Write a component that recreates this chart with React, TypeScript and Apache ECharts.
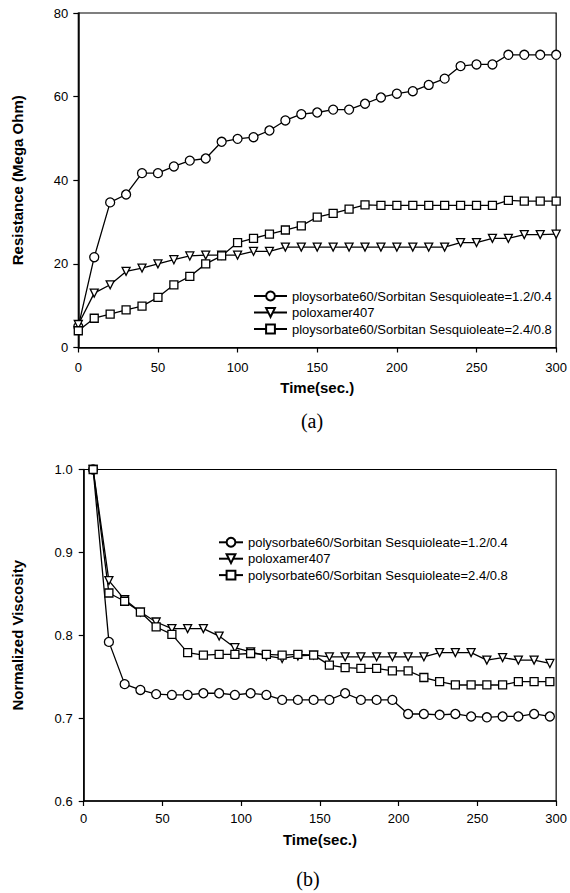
import React, { useEffect, useRef } from "react";
import * as echarts from "echarts";

// ---------- Data (a): Resistance vs time ----------
const timeA = [0, 10, 20, 30, 40, 50, 60, 70, 80, 90, 100, 110, 120, 130, 140, 150, 160, 170, 180, 190, 200, 210, 220, 230, 240, 250, 260, 270, 280, 290, 300];
const resPoly12 = [5.0, 21.6, 34.7, 36.6, 41.7, 41.7, 43.3, 44.7, 45.2, 49.2, 49.9, 50.3, 51.9, 54.3, 55.8, 56.2, 56.9, 56.9, 58.3, 59.8, 60.7, 61.3, 62.8, 64.3, 67.3, 67.7, 67.7, 70.0, 70.0, 70.0, 70.0];
const resPolox = [5.5, 13.0, 15.0, 18.2, 19.0, 20.0, 21.0, 21.9, 22.1, 22.1, 22.1, 23.0, 23.0, 24.0, 24.0, 24.0, 24.0, 24.0, 24.0, 24.0, 24.0, 24.0, 24.0, 24.0, 25.1, 25.1, 26.1, 26.1, 27.0, 27.0, 27.1];
const resPoly24 = [4.0, 7.0, 8.0, 9.0, 9.9, 12.0, 15.0, 17.0, 20.0, 21.9, 25.1, 26.1, 27.1, 28.1, 29.1, 31.2, 32.1, 33.1, 34.1, 34.0, 34.0, 34.0, 34.0, 34.0, 34.0, 34.0, 34.0, 35.2, 35.0, 35.0, 35.0];

// ---------- Data (b): Normalized viscosity vs time ----------
const timeB = [6, 16, 26, 36, 46, 56, 66, 76, 86, 96, 106, 116, 126, 136, 146, 156, 166, 176, 186, 196, 206, 216, 226, 236, 246, 256, 266, 276, 286, 296];
const viscPoly12 = [1.0, 0.792, 0.741, 0.734, 0.729, 0.728, 0.728, 0.730, 0.730, 0.728, 0.730, 0.728, 0.722, 0.722, 0.722, 0.722, 0.730, 0.722, 0.722, 0.722, 0.705, 0.705, 0.704, 0.705, 0.702, 0.701, 0.702, 0.702, 0.705, 0.702];
const viscPolox = [1.0, 0.866, 0.843, 0.828, 0.816, 0.808, 0.808, 0.808, 0.799, 0.785, 0.780, 0.775, 0.772, 0.775, 0.776, 0.774, 0.774, 0.774, 0.774, 0.774, 0.774, 0.774, 0.779, 0.779, 0.779, 0.770, 0.773, 0.770, 0.770, 0.766];
const viscPoly24 = [1.0, 0.851, 0.841, 0.828, 0.810, 0.801, 0.779, 0.776, 0.777, 0.777, 0.778, 0.777, 0.776, 0.777, 0.776, 0.764, 0.761, 0.760, 0.760, 0.757, 0.757, 0.749, 0.744, 0.740, 0.740, 0.740, 0.740, 0.744, 0.744, 0.744];

// ---------- Labels ----------
const namesA = [
  "ploysorbate60/Sorbitan Sesquioleate=1.2/0.4",
  "poloxamer407",
  "ploysorbate60/Sorbitan Sesquioleate=2.4/0.8",
];
const namesB = [
  "polysorbate60/Sorbitan Sesquioleate=1.2/0.4",
  "poloxamer407",
  "polysorbate60/Sorbitan Sesquioleate=2.4/0.8",
];
const xTitle = "Time(sec.)";
const yTitleA = "Resistance (Mega Ohm)";
const yTitleB = "Normalized Viscosity";
const captionA = "(a)";
const captionB = "(b)";

const FONT = '"Liberation Sans", Arial, Helvetica, sans-serif';

function pairs(xs: number[], ys: number[]) {
  return xs.map((x, i) => [x, ys[i]]);
}

function makeSeries(name: string, xi: number, xs: number[], ys: number[], symbol: string, size: number, rotate = 0) {
  return {
    type: "line",
    name,
    xAxisIndex: xi,
    yAxisIndex: xi,
    data: pairs(xs, ys),
    symbol,
    symbolSize: size,
    symbolRotate: rotate,
    showSymbol: true,
    lineStyle: { color: "#000", width: 1.3 },
    itemStyle: { color: "#fff", borderColor: "#000", borderWidth: 1.3 },
    emphasis: { disabled: true },
  };
}

function axisCommon() {
  return {
    axisLine: { show: true, onZero: false, lineStyle: { color: "#000", width: 1.5 } },
    axisTick: { show: true, inside: false, length: 5, lineStyle: { color: "#000", width: 1.2 } },
    splitLine: { show: false },
    nameLocation: "middle",
    nameTextStyle: { fontSize: 15, fontWeight: "bold", color: "#000", fontFamily: FONT },
  };
}

export default function App() {
  const ref = useRef<HTMLDivElement>(null);
  useEffect(() => {
    document.body.style.margin = "0";
    document.body.style.overflow = "hidden";
    const chart = echarts.init(ref.current!, null, { renderer: "svg" });
    const option = {
      animation: false,
      backgroundColor: "#fff",
      textStyle: { fontFamily: FONT, color: "#000" },
      grid: [
        { left: 78.3, right: 11.7, top: 13, height: 334.5, show: true, borderColor: "#000", borderWidth: 1.2, backgroundColor: "transparent" },
        { left: 83.7, right: 13.3, top: 469.5, height: 331.5, show: true, borderColor: "#000", borderWidth: 1.2, backgroundColor: "transparent" },
      ],
      xAxis: [
        {
          type: "value", gridIndex: 0, min: 0, max: 300, interval: 50,
          ...axisCommon(), name: xTitle, nameGap: 32,
          axisLabel: { color: "#000", fontSize: 13, margin: 13, fontFamily: FONT },
        },
        {
          type: "value", gridIndex: 1, min: 0, max: 300, interval: 50,
          ...axisCommon(), name: xTitle, nameGap: 31,
          axisLabel: { color: "#000", fontSize: 13, margin: 11, fontFamily: FONT },
        },
      ],
      yAxis: [
        {
          type: "value", gridIndex: 0, min: 0, max: 80, interval: 20,
          ...axisCommon(), name: yTitleA, nameGap: 53,
          axisLabel: { color: "#000", fontSize: 13, margin: 10, fontFamily: FONT },
        },
        {
          type: "value", gridIndex: 1, min: 0.6, max: 1.0, interval: 0.1,
          ...axisCommon(), name: yTitleB, nameGap: 59,
          axisLabel: { color: "#000", fontSize: 13, margin: 11, fontFamily: FONT, formatter: (v: number) => v.toFixed(1) },
        },
      ],
      legend: [
        {
          data: namesA, orient: "vertical", left: 248, top: 284,
          itemWidth: 33, itemHeight: 11, itemGap: 2.5,
          textStyle: { fontSize: 13, color: "#000", fontFamily: FONT, lineHeight: 14 },
          selectedMode: false,
        },
        {
          data: namesB, orient: "vertical", left: 213, top: 530.3,
          itemWidth: 24, itemHeight: 11, itemGap: 2.4,
          textStyle: { fontSize: 13, color: "#000", fontFamily: FONT, lineHeight: 14 },
          selectedMode: false,
        },
      ],
      series: [
        makeSeries(namesA[0], 0, timeA, resPoly12, "circle", 9),
        makeSeries(namesA[1], 0, timeA, resPolox, "triangle", 8, 180),
        makeSeries(namesA[2], 0, timeA, resPoly24, "rect", 8),
        makeSeries(namesB[0], 1, timeB, viscPoly12, "circle", 9),
        makeSeries(namesB[1], 1, timeB, viscPolox, "triangle", 8, 180),
        makeSeries(namesB[2], 1, timeB, viscPoly24, "rect", 8),
      ],
      graphic: [
        {
          type: "text", x: 312, y: 421,
          style: { text: captionA, font: '20px "Liberation Serif", "Times New Roman", serif', fill: "#000", align: "center", verticalAlign: "middle" },
        },
        {
          type: "text", x: 308, y: 879,
          style: { text: captionB, font: '20px "Liberation Serif", "Times New Roman", serif', fill: "#000", align: "center", verticalAlign: "middle" },
        },
      ],
    };
    chart.setOption(option as any);
    return () => chart.dispose();
  }, []);
  return <div ref={ref} style={{ position: "absolute", left: 0, top: 0, width: 570, height: 893 }} />;
}
